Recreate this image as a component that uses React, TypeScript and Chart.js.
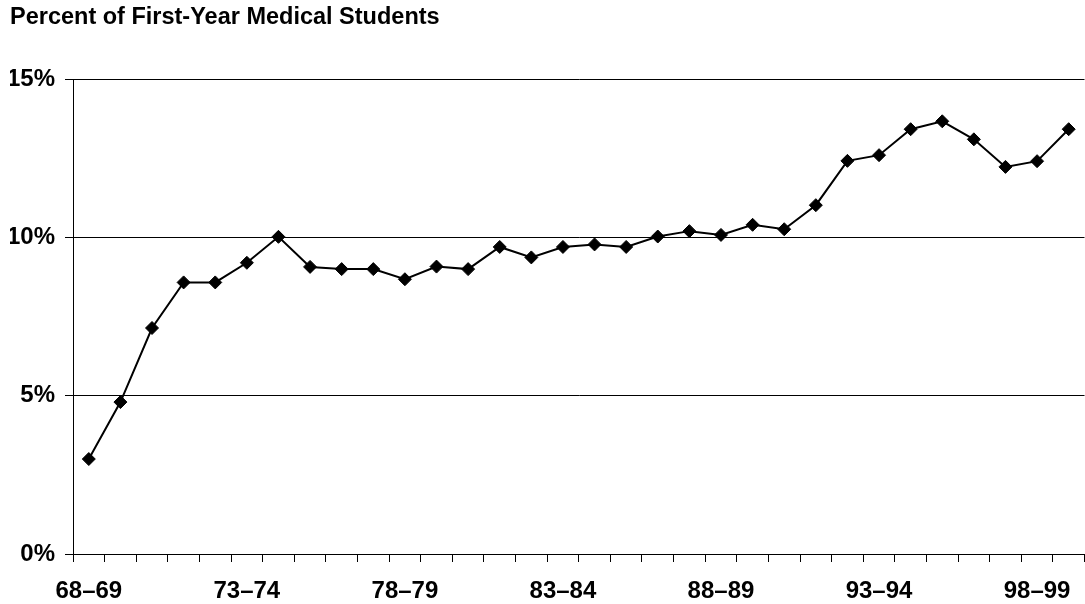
import React, { useEffect, useRef } from "react";
import { Chart, registerables } from "chart.js";

Chart.register(...registerables);

// Academic years, 1968–69 through 1999–00
const years: string[] = [
  "68–69", "69–70", "70–71", "71–72", "72–73", "73–74", "74–75", "75–76",
  "76–77", "77–78", "78–79", "79–80", "80–81", "81–82", "82–83", "83–84",
  "84–85", "85–86", "86–87", "87–88", "88–89", "89–90", "90–91", "91–92",
  "92–93", "93–94", "94–95", "95–96", "96–97", "97–98", "98–99", "99–00",
];

// Share of first-year medical students (%)
const percentFirstYear: number[] = [
  3.0, 4.8, 7.14, 8.58, 8.58, 9.2, 10.02, 9.07,
  9.0, 9.0, 8.68, 9.08, 9.0, 9.7, 9.37, 9.7,
  9.78, 9.7, 10.03, 10.2, 10.08, 10.4, 10.26, 11.02,
  12.42, 12.6, 13.42, 13.67, 13.1, 12.23, 12.41, 13.42,
];

const yTicks: number[] = [0, 5, 10, 15];

const FONT = "'Liberation Sans', Arial, Helvetica, sans-serif";

export default function App() {
  const canvasRef = useRef<HTMLCanvasElement | null>(null);

  useEffect(() => {
    if (!canvasRef.current) return;
    const chart = new Chart(canvasRef.current, {
      type: "line",
      data: {
        labels: years,
        datasets: [
          {
            data: percentFirstYear,
            borderColor: "#000",
            borderWidth: 2,
            backgroundColor: "#000",
            pointStyle: "rectRot",
            pointRadius: 6.5,
            pointBorderWidth: 1,
            pointBorderColor: "#000",
            pointBackgroundColor: "#000",
            tension: 0,
            fill: false,
          },
        ],
      },
      options: {
        responsive: false,
        animation: false,
        layout: { padding: { left: 10, right: 2, top: 0, bottom: 0 } },
        plugins: {
          legend: { display: false },
          tooltip: { enabled: false },
          title: {
            display: true,
            text: "Percent of First-Year Medical Students",
            align: "start",
            color: "#000",
            font: { family: FONT, size: 23.5, weight: "bold" },
            padding: { top: 3, bottom: 48 },
          },
        },
        scales: {
          x: {
            type: "category",
            offset: true,
            grid: {
              display: true,
              offset: true,
              drawOnChartArea: false,
              drawTicks: true,
              tickLength: 8,
              color: "#000",
              lineWidth: 1,
            },
            border: { display: true, color: "#000", width: 1 },
            ticks: {
              autoSkip: false,
              maxRotation: 0,
              minRotation: 0,
              padding: 15,
              color: "#000",
              font: { family: FONT, size: 24, weight: "bold" },
              callback: (_v: any, i: number) => (i % 5 === 0 ? years[i] : ""),
            },
            afterFit: (scale: any) => {
              scale.height = 50;
            },
          },
          y: {
            min: 0,
            max: 15,
            afterBuildTicks: (scale: any) => {
              scale.ticks = yTicks.map((v) => ({ value: v }));
            },
            grid: {
              color: "#000",
              lineWidth: 1,
              drawTicks: true,
              tickLength: 8,
            },
            border: { display: true, color: "#000", width: 1 },
            ticks: {
              padding: 10,
              color: "#000",
              font: { family: FONT, size: 24, weight: "bold" },
              callback: (v: any) => `${v}%`,
            },
            afterFit: (scale: any) => {
              scale.width = 63;
            },
          },
        },
      },
    });
    return () => chart.destroy();
  }, []);

  return (
    <div
      style={{
        position: "fixed",
        left: 0,
        top: 0,
        width: 1085,
        height: 604,
        overflow: "hidden",
        background: "#fff",
      }}
    >
      <canvas
        ref={canvasRef}
        width={1092}
        height={604}
        style={{ display: "block", width: 1092, height: 604 }}
      />
    </div>
  );
}
